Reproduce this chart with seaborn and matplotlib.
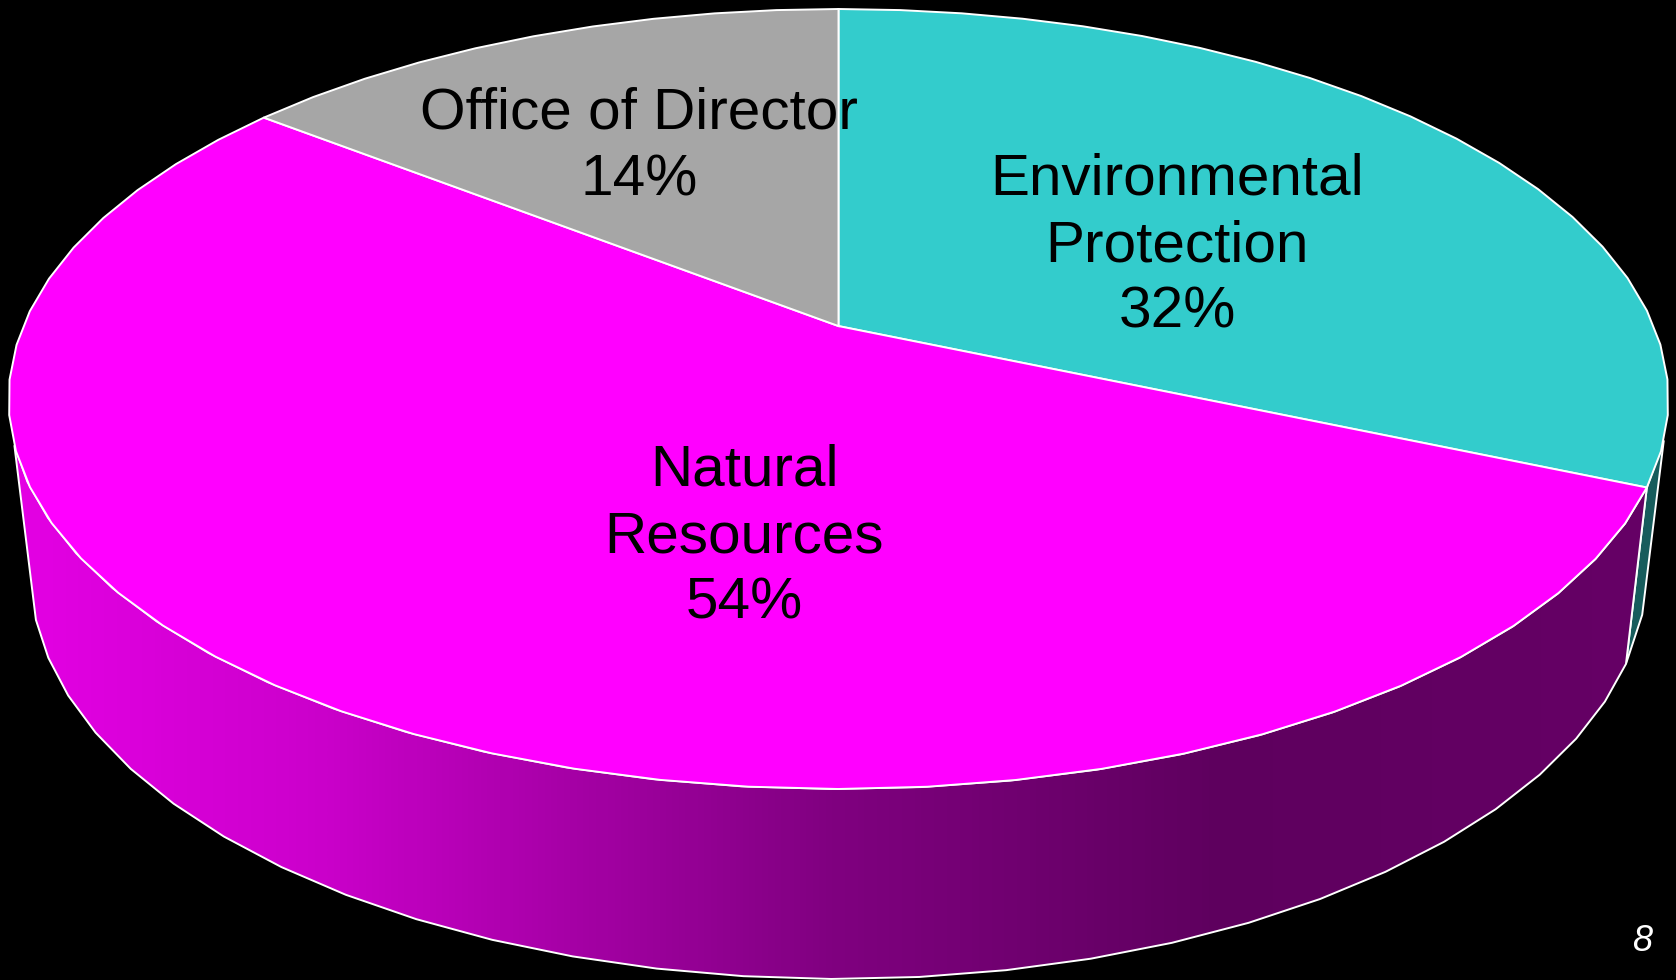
import numpy as np
import matplotlib
matplotlib.use("Agg")
import matplotlib.pyplot as plt
from matplotlib.colors import LinearSegmentedColormap
from matplotlib.patches import Polygon
import seaborn as sns

# Data
categories = ["Environmental\nProtection", "Natural\nResources", "Office of Director"]
shares = [31.5, 54.1, 14.4]
palette = sns.color_palette(["#33CCCC", "#FF00FF", "#A6A6A6"])

sns.set_theme(style="white")
plt.rcParams["font.family"] = ["Liberation Sans", "DejaVu Sans"]

W, H = 1676, 980
fig, ax = plt.subplots(figsize=(W / 100, H / 100), dpi=100)
fig.patch.set_facecolor("black")
ax.set_position([0, 0, 1, 1])
ax.set_facecolor("black")
ax.set_axis_off()

EDGE = "white"
LW = 1.4
CX = 838.5


def project(theta_deg, rx, ry, cy, k):
    """Perspective view of a circle; angle runs clockwise from 12 o'clock."""
    t = np.radians(theta_deg)
    u, v = np.sin(t), np.cos(t)
    w = 1 + k * v
    a = rx * np.sqrt(1 - k ** 2)
    return CX + a * u / w, cy - (ry * v + k * ry) / w


def top(t):
    return project(t, 830, 390, 399, 0.187)


def bottom(t):
    return project(t, 808, 406, 573, 0.19)


def arc(a, b):
    n = max(int(abs(b - a) / 5), 1) + 1
    return np.linspace(a, b, n)


edges = np.concatenate([[0], np.cumsum(shares) / np.sum(shares) * 360])
sil_right, sil_left = 106.7, 252.6

# side wall: teal sliver
t = arc(sil_right, edges[1])
teal_wall = np.r_[np.c_[top(t)], np.c_[bottom(t[::-1])]]
ax.add_patch(Polygon(teal_wall, closed=True, fc="#175C5C", ec=EDGE, lw=LW, zorder=2))

# side wall: magenta with horizontal shading
t = arc(edges[1], sil_left)
mag_wall = np.r_[np.c_[top(t)], np.c_[bottom(t[::-1])]]
wall_patch = Polygon(mag_wall, closed=True, fc="none", ec="none", transform=ax.transData)
ax.add_patch(wall_patch)
stops = [(0.0, "#E400E4"), (0.18, "#CC00CC"), (0.5, "#800080"),
         (0.74, "#5E005E"), (1.0, "#660066")]
cmap = LinearSegmentedColormap.from_list("wall", stops)
im = ax.imshow(np.linspace(0, 1, 512)[None, :], cmap=cmap, aspect="auto",
               extent=(13, 1650, 985, 400), zorder=2, interpolation="bilinear")
im.set_clip_path(wall_patch)
ax.add_patch(Polygon(mag_wall, closed=True, fc="none", ec=EDGE, lw=LW, zorder=3))

# top face
apex = (CX, 399 - 0.187 * 390)
for i, color in enumerate(palette):
    t = arc(edges[i], edges[i + 1])
    x, y = top(t)
    pts = np.r_[[apex], np.c_[x, y]]
    ax.add_patch(Polygon(pts, closed=True, fc=color, ec=EDGE, lw=LW, zorder=4))

# labels
label_pos = [(1177, 246), (744, 537), (639, 147)]
for name, share, (lx, ly) in zip(categories, shares, label_pos):
    ax.text(lx, ly, f"{name}\n{share:.0f}%", ha="center", va="center", color="black",
            fontsize=42.1, linespacing=1.3, zorder=5)

ax.text(1642, 941, "8", ha="center", va="center", color="white", fontsize=26,
        style="italic", zorder=5)

ax.set_xlim(0, W)
ax.set_ylim(H, 0)
fig.savefig("out.png", dpi=100, facecolor="black")
